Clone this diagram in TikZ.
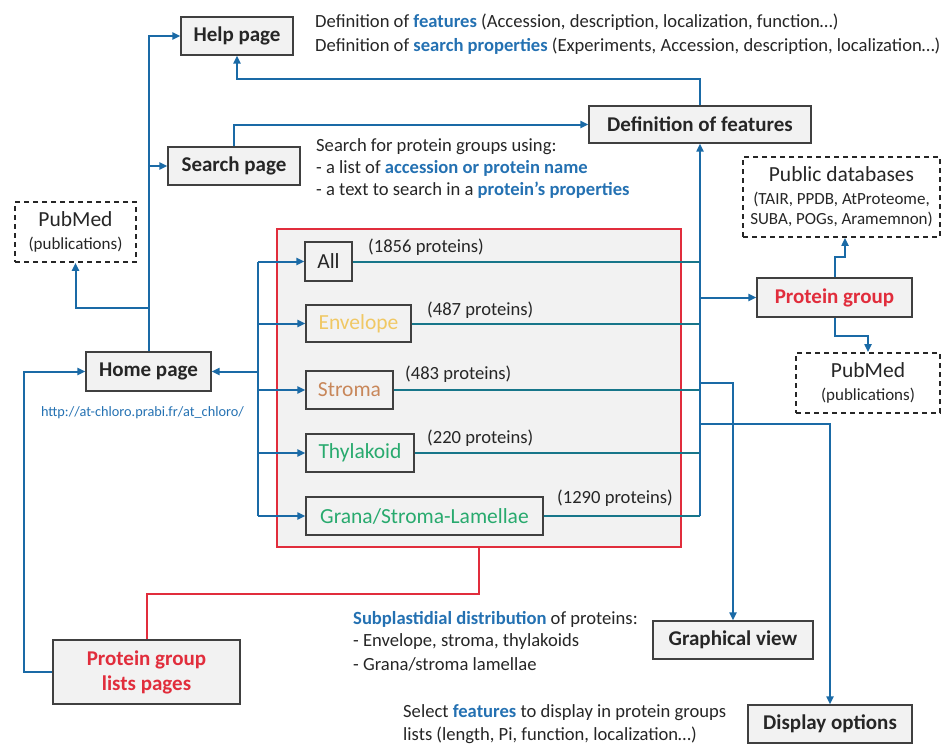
\documentclass[tikz,border=0pt]{standalone}
\usepackage{fontspec}
\setmainfont{Carlito}
\usetikzlibrary{arrows.meta}
\definecolor{bluec}{RGB}{26,106,166}
\definecolor{tealc}{RGB}{23,118,138}
\definecolor{boxf}{RGB}{242,242,242}
\definecolor{boxc}{RGB}{64,64,64}
\definecolor{redc}{RGB}{225,45,60}
\definecolor{tblue}{RGB}{36,113,178}
\definecolor{envc}{RGB}{240,200,100}
\definecolor{stromac}{RGB}{200,135,90}
\definecolor{thylc}{RGB}{40,170,110}
\definecolor{txtc}{RGB}{38,38,38}
\newcommand{\bl}[1]{{\bfseries\color{tblue}#1}}
\begin{document}
\begin{tikzpicture}[x=1pt,y=-1pt,
  box/.style={draw=boxc, fill=boxf, line width=1.3pt, inner sep=0pt, font=\fontsize{21}{24}\selectfont\bfseries, text=txtc, align=center},
  sbox/.style={draw=boxc, fill=boxf, line width=1.3pt, inner sep=0pt, font=\fontsize{21.5}{24}\selectfont, text=txtc},
  dbox/.style={draw=black!85, fill=white, dash pattern=on 5pt off 4pt, line width=1.8pt, inner sep=0pt, align=center, text=txtc, font=\fontsize{17}{20}\selectfont},
  arr/.style={draw=bluec, line width=2pt, -{Triangle[length=8pt,width=7pt]}},
  ln/.style={draw=bluec, line width=2pt},
  tl/.style={draw=tealc, line width=2pt},
  txt/.style={anchor=west, inner sep=0pt, font=\fontsize{18.6}{22}\selectfont, text=txtc}]
\useasboundingbox (0,0) rectangle (945,744);

% group frame
\node[draw=redc, fill=boxf, line width=1.8pt, minimum width=404pt, minimum height=318pt, inner sep=0pt] (grp) at (479,388) {};

% boxes
\node[box, minimum width=112pt, minimum height=38pt] (help) at (237,36) {Help page};
\node[box, minimum width=132pt, minimum height=38pt] (search) at (234,166) {Search page};
\node[box, minimum width=222pt, minimum height=37pt] (deff) at (700,124.5) {Definition of features};
\node[box, minimum width=125pt, minimum height=39pt] (home) at (148.5,371.5) {Home page};
\node[box, minimum width=155pt, minimum height=39pt, text=redc] (pg) at (834.5,297.5) {Protein group};
\node[box, minimum width=160pt, minimum height=38pt] (graph) at (733,640) {Graphical view};
\node[box, minimum width=164pt, minimum height=38pt] (disp) at (830,724) {Display options};
\node[box, minimum width=187pt, minimum height=64pt, text=redc, font=\fontsize{21}{25}\selectfont\bfseries] (pgl) at (146.5,672) {Protein group\\lists pages};

\node[sbox, minimum width=47pt, minimum height=39pt] (all) at (328.5,261.5) {All};
\node[sbox, minimum width=105pt, minimum height=37pt, text=envc] (env) at (358.5,323.5) {Envelope};
\node[sbox, minimum width=87pt, minimum height=38pt, text=stromac] (stroma) at (349.5,390) {Stroma};
\node[sbox, minimum width=108pt, minimum height=38pt, text=thylc] (thyl) at (360,453) {Thylakoid};
\node[sbox, minimum width=237pt, minimum height=38pt, text=thylc] (grana) at (424.5,516) {Grana/Stroma-Lamellae};

\node[dbox, minimum width=121pt, minimum height=60pt] (pmL) at (75.5,232) {{\fontsize{21.5}{24}\selectfont PubMed}\\[3pt](publications)};
\node[dbox, minimum width=144pt, minimum height=60pt] (pmR) at (868,383) {{\fontsize{21.5}{24}\selectfont PubMed}\\[3pt](publications)};
\node[dbox, minimum width=197pt, minimum height=80pt] (pdb) at (841.5,197) {{\fontsize{21.5}{24}\selectfont Public databases}\\[3pt](TAIR, PPDB, AtProteome,\\SUBA, POGs, Aramemnon)};

% texts
\node[txt] (t1) at (315,22) {Definition of \bl{features} (Accession, description, localization, function…)};
\node[txt] (t2) at (315,46) {Definition of \bl{search properties} (Experiments, Accession, description, localization…)};
\node[txt] (s1) at (316,147) {Search for protein groups using:};
\node[txt] (s2) at (316,168) {- a list of \bl{accession or protein name}};
\node[txt] (s3) at (316,190) {- a text to search in a \bl{protein's properties}};
\node[txt] (c1) at (368,247) {(1856 proteins)};
\node[txt] (c2) at (427,310) {(487 proteins)};
\node[txt] (c3) at (405,374) {(483 proteins)};
\node[txt] (c4) at (427,438) {(220 proteins)};
\node[txt] (c5) at (557,498) {(1290 proteins)};
\node[inner sep=0pt, font=\fontsize{14.3}{16}\selectfont, text=tblue] (url) at (142.5,413) {http://at-chloro.prabi.fr/at\_chloro/};
\node[txt] (p1) at (353,619) {\bl{Subplastidial distribution} of proteins:};
\node[txt] (p2) at (353,642) {- Envelope, stroma, thylakoids};
\node[txt] (p3) at (353,664) {- Grana/stroma lamellae};
\node[txt] (q1) at (403,713) {Select \bl{features} to display in protein groups};
\node[txt] (q2) at (403,735) {lists (length, Pi, function, localization…)};

% left bus
\draw[arr] (home.north) |- (help.west);
\draw[arr] (home.north |- search.west) -- (search.west);
\coordinate (j1) at (148.5,308);
\draw[arr] (j1) -| (pmL.south);
\draw[arr] (search.north) |- (deff.west);
\draw[arr] (deff.north) -- ++(0,-26) -| (help.south);

% inner bus
\coordinate (bus) at (258,0);
\draw[ln] (bus |- all.west) -- (bus |- grana.west);
\draw[arr] (bus |- all.west) -- (all.west);
\draw[arr] (bus |- env.west) -- (env.west);
\draw[arr] (bus |- stroma.west) -- (stroma.west);
\draw[arr] (bus |- thyl.west) -- (thyl.west);
\draw[arr] (bus |- grana.west) -- (grana.west);
\draw[arr] (bus |- home.east) -- (home.east);

% right bus
\coordinate (rb) at (700,0);
\draw[tl] (all.east) -- (rb |- all.east);
\draw[tl] (env.east) -- (rb |- env.east);
\draw[tl] (stroma.east) -- (rb |- stroma.east);
\draw[tl] (thyl.east) -- (rb |- thyl.east);
\draw[tl] (grana.east) -- (rb |- grana.east);
\draw[arr] (rb |- grana.east) -- (deff.south);
\draw[arr] (rb |- pg.west) -- (pg.west);
\coordinate (g1) at (700,383);
\draw[arr] (g1) -| (graph.north);
\coordinate (d1) at (700,424);
\draw[arr] (d1) -| (disp.north);

% protein group links
\draw[arr] (pg.north) -- ++(0,-20) -| ([xshift=3.5pt]pdb.south);
\draw[arr] (pg.south) -- ++(0,18) -| (pmR.north);

% lists pages
\draw[arr] (pgl.west) -- ++(-28,0) |- (home.west);
\draw[draw=redc, line width=2pt] (grp.south) -- ++(0,46) -| (pgl.north);
\end{tikzpicture}
\end{document}
